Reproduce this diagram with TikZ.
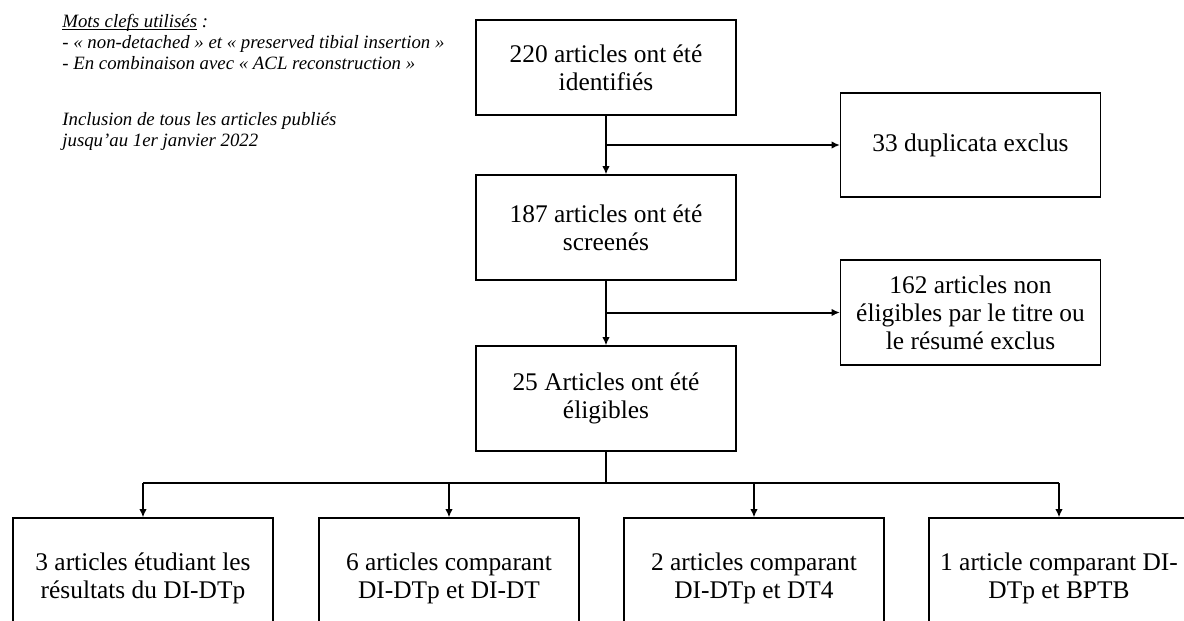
\documentclass[tikz,border=0pt]{standalone}
\usepackage{fontspec}
\setmainfont{Liberation Serif}
\usetikzlibrary{arrows.meta}
\tikzset{>={Latex[length=4.2pt,width=3.8pt]}}
\newcommand{\souligne}[1]{\setbox0\hbox{#1}\rlap{\rule[-1.3pt]{\wd0}{0.45pt}}\box0\relax}

\begin{document}
\begin{tikzpicture}[x=0.5pt,y=-0.5pt,
  bloc/.style={draw,line width=0.6pt,minimum width=130pt,inner sep=0pt,
    align=center,font=\fontsize{12.7}{14}\selectfont},
  note/.style={align=left,inner sep=0pt,anchor=north west,
    font=\fontsize{9.4}{10.5}\selectfont\itshape},
  fleche/.style={->,line width=1pt}]
  \useasboundingbox (0,0) rectangle (1184,621);
  \clip (0,0) rectangle (1184,621);

  % mots clefs
  \node[note] (mots) at (62,14) {\souligne{Mots clefs utilisés} :\\
    - « non-detached » et « preserved tibial insertion »\\
    - En combinaison avec « ACL reconstruction »};
  \node[note] (incl) at (62,112) {Inclusion de tous les articles publiés\\
    jusqu’au 1er janvier 2022};

  % colonne centrale
  \node[bloc,minimum height=47.5pt] (n220) at (606,67.5) {220 articles ont été\\identifiés};
  \node[bloc,minimum height=52.5pt] (n187) at (606,227.5) {187 articles ont été\\screenés};
  \node[bloc,minimum height=52.5pt] (n25) at (606,398.5) {25 Articles ont été\\éligibles};

  % exclusions
  \node[bloc,minimum height=52pt] (n33) at (970.5,145) {33 duplicata exclus};
  \node[bloc,minimum height=52.5pt] (n162) at (970.5,312.5) {162 articles non\\éligibles par le titre ou\\le résumé exclus};

  % etudes retenues
  \node[bloc,minimum height=60pt] (da) at (143,578) {3 articles étudiant les\\résultats du DI-DTp};
  \node[bloc,minimum height=60pt] (db) at (449,578) {6 articles comparant\\DI-DTp et DI-DT};
  \node[bloc,minimum height=60pt] (dc) at (754,578) {2 articles comparant\\DI-DTp et DT4};
  \node[bloc,minimum height=60pt] (dd) at (1059,578) {1 article comparant DI-\\DTp et BPTB};

  \draw[fleche] (n220.south) -- (n187.north);
  \draw[fleche] (n220.south |- n33.west) -- (n33.west);
  \draw[fleche] (n187.south) -- (n25.north);
  \draw[fleche] (n187.south |- n162.west) -- (n162.west);

  \coordinate (bus) at (606,483);
  \draw[line width=1pt] (n25.south) -- (bus);
  \draw[line width=1pt] (da.north |- bus) -- (dd.north |- bus);
  \foreach \d in {da,db,dc,dd}
    \draw[fleche] (\d.north |- bus) -- (\d.north);
\end{tikzpicture}
\end{document}
